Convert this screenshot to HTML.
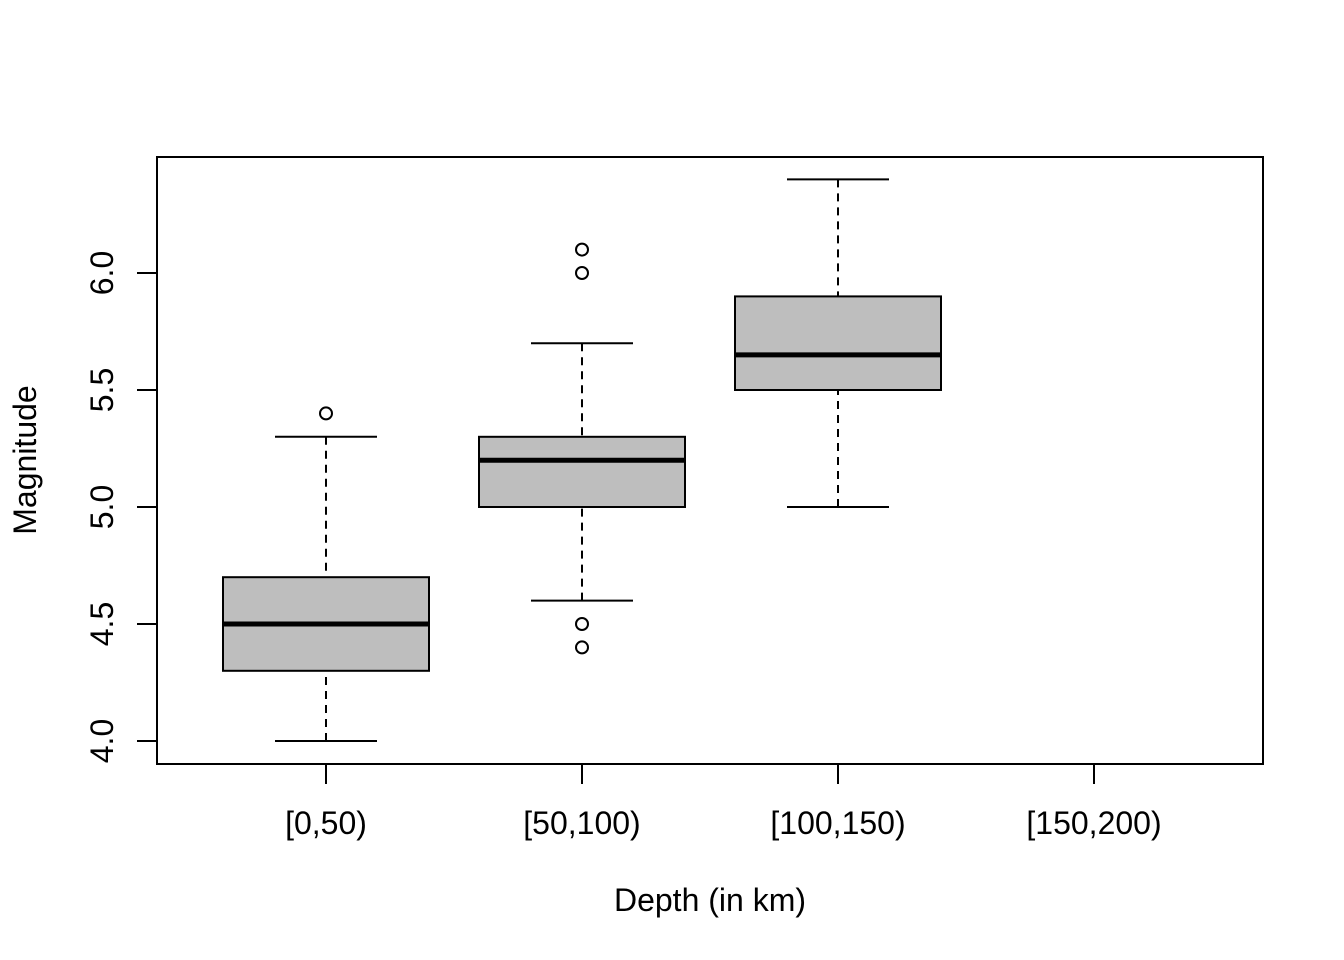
<!DOCTYPE html>
<html><head><meta charset="utf-8"><style>
html,body{margin:0;padding:0;background:#fff;}
svg{display:block;font-family:"Liberation Sans",Arial,sans-serif;}
</style></head><body>
<svg id="chart" width="1344" height="960" viewBox="0 0 1344 960" xmlns="http://www.w3.org/2000/svg">
<rect x="0" y="0" width="1344" height="960" fill="#fff"/>
<rect x="157" y="157" width="1106" height="607" fill="none" stroke="#000" stroke-width="2"/>
<g id="marks"></g>
<text x="710" y="911" font-size="32" text-anchor="middle">Depth (in km)</text>
<text transform="translate(36,460) rotate(-90)" font-size="32" text-anchor="middle">Magnitude</text>
</svg>
<script>
const categories = ["[0,50)", "[50,100)", "[100,150)", "[150,200)"];
const lowWhisker = [4.0, 4.6, 5.0, null];
const q1 = [4.3, 5.0, 5.5, null];
const medians = [4.5, 5.2, 5.65, null];
const q3 = [4.7, 5.3, 5.9, null];
const highWhisker = [5.3, 5.7, 6.4, null];
const outliers = [[5.4], [6.1, 6.0, 4.5, 4.4], [], []];
const yTicks = [4.0, 4.5, 5.0, 5.5, 6.0];
const yTickLabels = ["4.0", "4.5", "5.0", "5.5", "6.0"];

const NS = "http://www.w3.org/2000/svg";
const g = document.getElementById("marks");
function yScale(v){ return 741 - (v - 4.0) * 234; }
function xScale(i){ return 326 + i * 256; }
function mk(tag, attrs){
  const e = document.createElementNS(NS, tag);
  for (const k in attrs) e.setAttribute(k, attrs[k]);
  g.appendChild(e); return e;
}
mk("line",{x1:157,x2:157,y1:yScale(yTicks[0]),y2:yScale(yTicks[yTicks.length-1]),stroke:"#000","stroke-width":2});
yTicks.forEach((t,i)=>{
  const y = yScale(t);
  const l = mk("line",{x1:137,x2:157,y1:y,y2:y,stroke:"#000","stroke-width":2});
  
  
  const tx = mk("text",{transform:`translate(113,${y}) rotate(-90)`,"font-size":32,"text-anchor":"middle"});
  
  
  tx.textContent = yTickLabels[i];
});
mk("line",{x1:xScale(0),x2:xScale(categories.length-1),y1:764,y2:764,stroke:"#000","stroke-width":2});
categories.forEach((c,i)=>{
  const x = xScale(i);
  const l = mk("line",{x1:x,x2:x,y1:764,y2:784,stroke:"#000","stroke-width":2});
  
  
  const tx = mk("text",{x:x,y:834,"font-size":32,"text-anchor":"middle"});
  
  
  tx.textContent = c;
  if (medians[i] === null) return;
  const hw = 103, cw = 51;
  const w1 = mk("line",{x1:x,x2:x,y1:yScale(lowWhisker[i]),y2:yScale(q1[i]),stroke:"#000","stroke-width":2,"stroke-dasharray":"8,6"});
  
  
  const w2 = mk("line",{x1:x,x2:x,y1:yScale(highWhisker[i]),y2:yScale(q3[i]),stroke:"#000","stroke-width":2,"stroke-dasharray":"8,6"});
  
  
  const c1 = mk("line",{x1:x-cw,x2:x+cw,y1:yScale(lowWhisker[i]),y2:yScale(lowWhisker[i]),stroke:"#000","stroke-width":2});
  
  
  const c2 = mk("line",{x1:x-cw,x2:x+cw,y1:yScale(highWhisker[i]),y2:yScale(highWhisker[i]),stroke:"#000","stroke-width":2});
  
  
  const b = mk("rect",{x:x-hw,y:yScale(q3[i]),width:2*hw,height:yScale(q1[i])-yScale(q3[i]),fill:"#bebebe",stroke:"#000","stroke-width":2});
  
  
  const m = mk("line",{x1:x-hw,x2:x+hw,y1:yScale(medians[i]),y2:yScale(medians[i]),stroke:"#000","stroke-width":5});
  
  
  outliers[i].forEach(v=>{
    const o = mk("circle",{cx:x,cy:yScale(v),r:6,fill:"none",stroke:"#000","stroke-width":2});
    
    
  });
});
</script>
</body></html>
